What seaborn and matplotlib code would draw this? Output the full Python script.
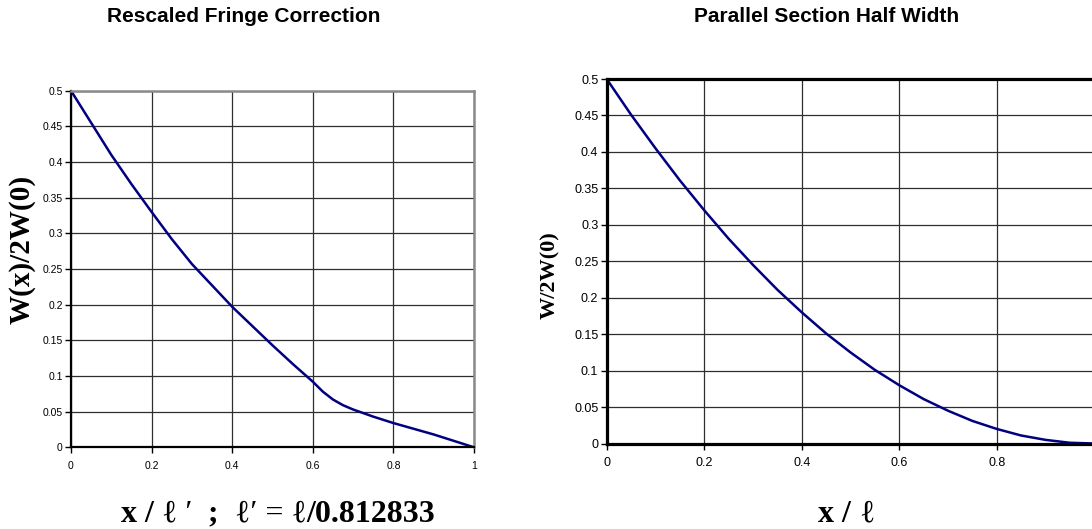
import matplotlib
matplotlib.use("Agg")
import matplotlib.pyplot as plt
from matplotlib.offsetbox import TextArea, HPacker, AnchoredOffsetbox
import seaborn as sns
import pandas as pd

# Positions along the section (fraction of length), fringe curve
x_fringe = [0.00, 0.05, 0.10, 0.15, 0.20, 0.25, 0.30, 0.35, 0.40, 0.45, 0.50,
            0.55, 0.60, 0.625, 0.65, 0.675, 0.70, 0.75, 0.80, 0.85, 0.90, 0.95, 1.00]

# Rescaled fringe correction W(x)/2W(0)
fringe = [0.500, 0.455, 0.410, 0.369, 0.330, 0.292, 0.257, 0.227, 0.197, 0.170, 0.143,
          0.117, 0.092, 0.078, 0.067, 0.059, 0.053, 0.043, 0.034, 0.026, 0.018, 0.009, 0.000]

# Positions along the parallel section
x_half = [0.00, 0.05, 0.10, 0.15, 0.20, 0.25, 0.30, 0.35, 0.40, 0.45, 0.50,
          0.55, 0.60, 0.65, 0.70, 0.75, 0.80, 0.85, 0.90, 0.95, 1.00]

# Parallel section half width W/2W(0)
half_width = [0.500, 0.451, 0.405, 0.361, 0.320, 0.281, 0.245, 0.211, 0.180, 0.151, 0.125,
              0.101, 0.080, 0.061, 0.045, 0.031, 0.020, 0.011, 0.005, 0.001, 0.000]

x_ticks = [0, 0.2, 0.4, 0.6, 0.8, 1]
y_ticks = [0, 0.05, 0.1, 0.15, 0.2, 0.25, 0.3, 0.35, 0.4, 0.45, 0.5]

titles = ["Rescaled Fringe Correction", "Parallel Section Half Width"]
ylabels = ["W(x)/2W(0)", "W/2W(0)"]

sns.set_style("white")
plt.rcParams["font.family"] = ["Liberation Sans", "DejaVu Sans"]
plt.rcParams.update({"text.color": "black", "axes.labelcolor": "black",
                     "xtick.color": "black", "ytick.color": "black"})

SERIF = ["Liberation Serif", "DejaVu Serif"]
LINE = "#000080"
GRID = "#2e2e2e"

fig = plt.figure(figsize=(10.92, 5.29), dpi=100)
ax1 = fig.add_axes([71 / 1092, 81.7 / 529, 403 / 1092, 356.6 / 529])
ax2 = fig.add_axes([606.7 / 1092, 85.5 / 529, 487.5 / 1092, 364.5 / 529])

df1 = pd.DataFrame({"x": x_fringe, "y": fringe})
df2 = pd.DataFrame({"x": x_half, "y": half_width})
sns.lineplot(data=df1, x="x", y="y", ax=ax1, color=LINE, linewidth=1.8)
sns.lineplot(data=df2, x="x", y="y", ax=ax2, color=LINE, linewidth=1.8)


def fmt(v):
    return f"{v:g}"


for ax, tick_fs in ((ax1, 7.5), (ax2, 9)):
    ax.set_xlim(0, 1)
    ax.set_ylim(0, 0.5)
    ax.set_xticks(x_ticks)
    ax.set_yticks(y_ticks)
    ax.set_xticklabels([fmt(v) for v in x_ticks])
    ax.set_yticklabels([fmt(v) for v in y_ticks])
    ax.grid(True, color=GRID, linewidth=0.9)
    ax.set_axisbelow(True)
    ax.tick_params(axis="both", direction="out", length=4, width=1, color="black",
                   labelcolor="black", labelsize=tick_fs, pad=2, bottom=True, left=True)
    ax.tick_params(axis="x", pad=6)
    ax.set_xlabel("")
    ax.set_ylabel("")

# Frames: left chart with grey top/right edges, right chart heavy black box
for side in ("left", "bottom"):
    ax1.spines[side].set_color("black")
    ax1.spines[side].set_linewidth(1.6)
for side in ("top", "right"):
    ax1.spines[side].set_color("#8a8a8a")
    ax1.spines[side].set_linewidth(1.8)
for side in ("left", "bottom", "top", "right"):
    ax2.spines[side].set_color("black")
    ax2.spines[side].set_linewidth(2.3)

# Titles
fig.text(243.5 / 1092, 1 - 16 / 529, titles[0], ha="center", va="center",
         fontsize=15, fontweight="bold", color="black")
fig.text(827 / 1092, 1 - 17 / 529, titles[1], ha="center", va="center",
         fontsize=15, fontweight="bold", color="black")

# Y labels
fig.text(21.7 / 1092, 1 - 249 / 529, ylabels[0], rotation=90, ha="center", va="center",
         fontsize=21, fontweight="bold", family=SERIF, color="black")
fig.text(550 / 1092, 1 - 275 / 529, ylabels[1], rotation=90, ha="center", va="center",
         fontsize=16, fontweight="bold", family=SERIF, color="black")


def mixed_label(parts, center, size):
    boxes = [TextArea(txt, textprops=dict(fontsize=size, family=SERIF, color="black",
                                          fontweight=("bold" if bold else "normal")))
             for txt, bold in parts]
    pack = HPacker(children=boxes, align="baseline", pad=0, sep=0)
    anchored = AnchoredOffsetbox(loc="center", child=pack, pad=0, borderpad=0,
                                 frameon=False, bbox_to_anchor=center,
                                 bbox_transform=fig.transFigure)
    fig.add_artist(anchored)


mixed_label([("x / ", True), ("\u2113 \u2032", False), ("  ;  ", True),
             ("\u2113\u2032 = \u2113", False), ("/0.812833", True)],
            (278 / 1092, 1 - 514 / 529), 23)
mixed_label([("x / ", True), ("\u2113", False)],
            (846 / 1092, 1 - 514 / 529), 23)

fig.savefig("out.png", dpi=100)
